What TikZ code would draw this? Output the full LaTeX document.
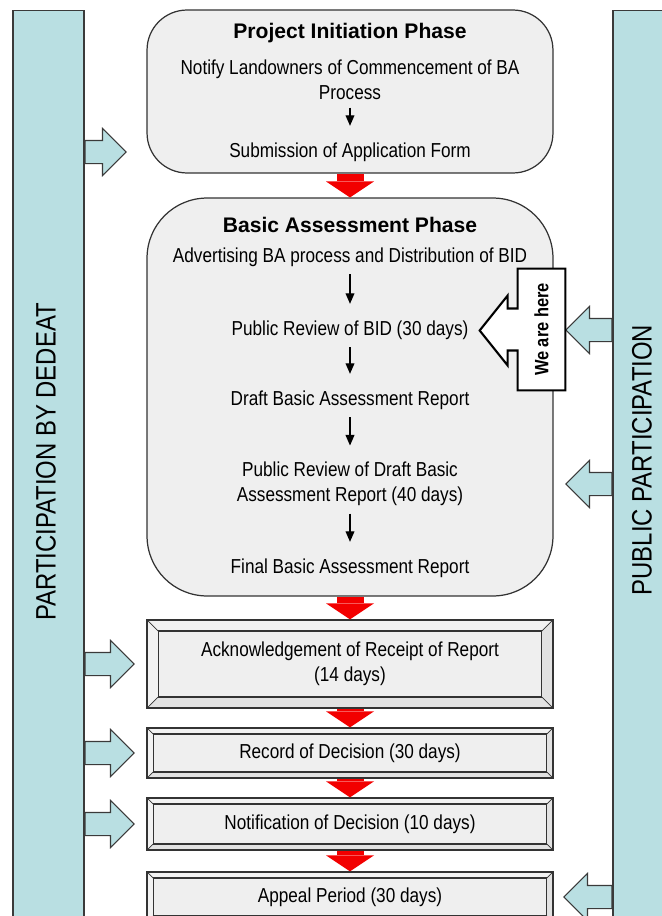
\documentclass[tikz,border=0pt]{standalone}
\usepackage{fontspec}
\setmainfont{Liberation Sans}[FakeStretch=0.85]
\newfontfamily\titlefont{Liberation Sans}
\usetikzlibrary{arrows.meta,shapes.arrows,calc}
\definecolor{barcyan}{HTML}{B9DFE2}
\definecolor{barline}{HTML}{3A3A3A}
\definecolor{boxgray}{HTML}{EFEFEF}
\definecolor{framegray}{HTML}{F2F2F2}
\definecolor{framedark}{HTML}{E2E2E2}
\definecolor{boxline}{HTML}{333333}
\definecolor{arrowred}{HTML}{F20000}
\begin{document}
\begin{tikzpicture}[x=0.02cm, y=-0.02cm,
    sidebar/.style = {draw=barline, fill=barcyan, line width=0.6pt, minimum height=18.2cm},
    bartext/.style = {rotate=90, font=\fontsize{16}{18}\selectfont},
    phase/.style = {draw=boxline, fill=boxgray, line width=0.7pt, minimum width=8.12cm},
    phasetitle/.style = {font=\titlefont\bfseries\fontsize{12}{14}\selectfont},
    txt/.style = {font=\fontsize{11.5}{14}\selectfont, align=center},
    bevel/.style = {draw=boxline, fill=framegray, line width=0.7pt, minimum width=8.12cm,
        path picture={
            \fill[framedark] (path picture bounding box.south west) -- (path picture bounding box.south east)
                -- (path picture bounding box.north east) -- ([shift={(-#1,#1)}]path picture bounding box.north east)
                -- ([shift={(-#1,-#1)}]path picture bounding box.south east) -- ([shift={(#1,-#1)}]path picture bounding box.south west) -- cycle;
            \draw[boxline, line width=0.6pt, fill=boxgray] ([shift={(#1,#1)}]path picture bounding box.north west) rectangle ([shift={(-#1,-#1)}]path picture bounding box.south east);
            \draw[boxline, line width=0.4pt] (path picture bounding box.north west) -- ([shift={(#1,#1)}]path picture bounding box.north west)
                (path picture bounding box.north east) -- ([shift={(-#1,#1)}]path picture bounding box.north east)
                (path picture bounding box.south west) -- ([shift={(#1,-#1)}]path picture bounding box.south west)
                (path picture bounding box.south east) -- ([shift={(-#1,-#1)}]path picture bounding box.south east);
        }},
    redarrow/.style = {draw=arrowred, line width=0.54cm, shorten <=0.5pt, -{Triangle[width=0.96cm, length=0.32cm, line width=0pt]}},
    smallarrow/.style = {line width=0.7pt, shorten <=1pt, shorten >=6pt, -{Triangle[width=5pt, length=6pt]}},
    bluearrow/.style = {single arrow, draw=barline, fill=barcyan, line width=0.6pt, inner xsep=0pt, inner ysep=0.22cm,
        single arrow head extend=0.24cm, anchor=tail},
    herebox/.style = {draw=black, fill=white, line width=1.2pt}]
    \useasboundingbox (0,0) rectangle (662,916);

    % side bars
    \node[sidebar, minimum width=1.42cm] (lbar) at (48.5,465) {};
    \node[sidebar, minimum width=1.34cm] (rbar) at (646.5,465) {};
    \node[bartext] (llab) at (46,462) {PARTICIPATION BY DEDEAT};
    \node[bartext] (rlab) at (642,460) {PUBLIC PARTICIPATION};

    % phases
    \node[phase, minimum height=3.26cm, rounded corners=0.8cm] (init) at (350,91.5) {};
    \node[phase, minimum height=7.96cm, rounded corners=1.2cm] (basic) at (350,397) {};

    \node[phasetitle] (ptitle) at (350,33) {Project Initiation Phase};
    \node[txt] (notify) at (350,80) {Notify Landowners of Commencement of BA\\Process};
    \node[txt] (submit) at (350,152) {Submission of Application Form};

    \node[phasetitle] (btitle) at (350,225) {Basic Assessment Phase};
    \node[txt] (advert) at (350,257) {Advertising BA process and Distribution of BID};
    \node[txt] (review) at (350,330) {Public Review of BID (30 days)};
    \node[txt] (draft) at (350,400) {Draft Basic Assessment Report};
    \node[txt] (pubdraft) at (350,484) {Public Review of Draft Basic\\Assessment Report (40 days)};
    \node[txt] (final) at (350,568) {Final Basic Assessment Report};

    \draw[smallarrow] (notify) -- (submit);
    \draw[smallarrow] (advert) -- (review);
    \draw[smallarrow] (review) -- (draft);
    \draw[smallarrow] (draft) -- (pubdraft);
    \draw[smallarrow] (pubdraft) -- (final);

    % decision steps
    \node[bevel=11, minimum height=1.76cm, txt] (ack) at (350,664) {Acknowledgement of Receipt of Report\\(14 days)};
    \node[bevel=6, minimum height=1cm, txt] (record) at (350,753) {Record of Decision (30 days)};
    \node[bevel=6, minimum height=1.04cm, txt] (notice) at (350,824) {Notification of Decision (10 days)};
    \node[bevel=6, minimum height=1cm, txt] (appeal) at (350,897) {Appeal Period (30 days)};

    \draw[redarrow] (init.south) -- (basic.north);
    \draw[redarrow] (basic.south) -- (ack.north);
    \draw[redarrow] (ack.south) -- (record.north);
    \draw[redarrow] (record.south) -- (notice.north);
    \draw[redarrow] (notice.south) -- (appeal.north);

    % participation arrows
    \node[bluearrow, minimum height=0.82cm] (pin1) at (lbar.east |- submit) {};
    \node[bluearrow, minimum height=0.98cm] (pin2) at (lbar.east |- ack) {};
    \node[bluearrow, minimum height=0.98cm] (pin3) at (lbar.east |- record) {};
    \node[bluearrow, minimum height=0.98cm] (pin4) at (lbar.east |- notice) {};
    \node[bluearrow, shape border rotate=180, minimum height=0.92cm] (pout1) at (rbar.west |- review) {};
    \node[bluearrow, shape border rotate=180, minimum height=0.92cm] (pout2) at (rbar.west |- pubdraft) {};
    \node[bluearrow, shape border rotate=180, minimum height=0.96cm] (pout3) at (rbar.west |- appeal) {};

    % we are here
    \node[minimum width=0.94cm, minimum height=2.42cm, inner sep=0pt] (here) at (541.5,329.5) {};
    \draw[herebox] (here.north west) -- (here.north east) -- (here.south east) -- (here.south west)
        -- ($(here.west)+(0,21)$) -- ++(-10,0) -- ++(0,15) -- ++(-28,-35) -- ++(28,-35) -- ++(0,13) -- ++(10,0) -- cycle;
    \node[rotate=90, font=\bfseries\fontsize{11}{13}\selectfont] (heretxt) at (here) {We are here};
\end{tikzpicture}
\end{document}
